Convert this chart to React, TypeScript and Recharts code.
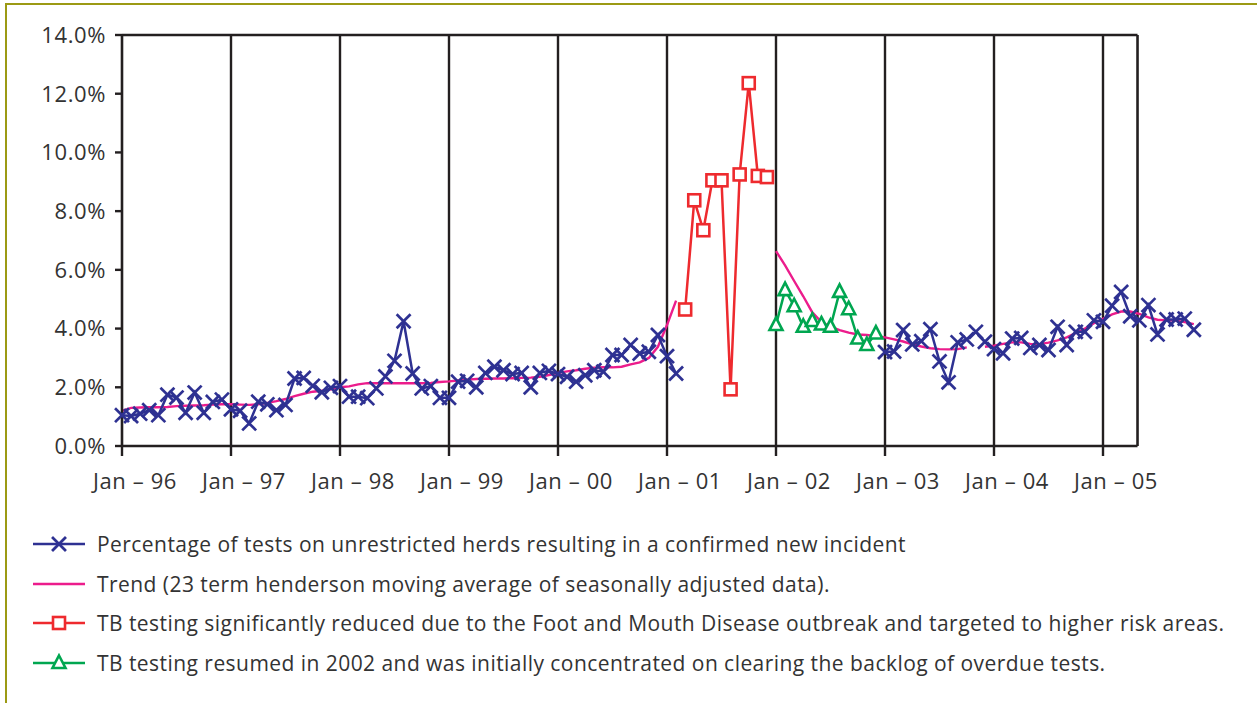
import React from 'react';
import { LineChart, Line, XAxis, YAxis, ReferenceLine } from 'recharts';

// Monthly values from Jan 1996 (month 0) to Nov 2005 (month 118)
const yearLabels = ['Jan – 96', 'Jan – 97', 'Jan – 98', 'Jan – 99', 'Jan – 00', 'Jan – 01', 'Jan – 02', 'Jan – 03', 'Jan – 04', 'Jan – 05'];
const yearTicks = [0, 12, 24, 36, 48, 60, 72, 84, 96, 108];
const pctTicks = [0, 2, 4, 6, 8, 10, 12, 14];

// Jan 96 - Feb 01
const blueEarly = [
  1.05, 1.02, 1.1, 1.22, 1.05, 1.75, 1.65, 1.13, 1.82, 1.13, 1.5, 1.58,
  1.25, 1.2, 0.77, 1.51, 1.42, 1.22, 1.4, 2.3, 2.32, 2.05, 1.83, 1.98,
  2.04, 1.68, 1.68, 1.63, 1.96, 2.37, 2.9, 4.25, 2.47, 1.96, 2.04, 1.64,
  1.64, 2.19, 2.22, 2.0, 2.49, 2.7, 2.58, 2.45, 2.49, 2.0, 2.49, 2.56,
  2.45, 2.36, 2.19, 2.41, 2.58, 2.53, 3.1, 3.1, 3.44, 3.15, 3.21, 3.78,
  3.06, 2.47,
];
// Jan 03 - Nov 05
const blueLate = [
  3.2, 3.22, 3.95, 3.46, 3.57, 3.98, 2.88, 2.17, 3.53, 3.63, 3.89, 3.55,
  3.3, 3.16, 3.66, 3.68, 3.34, 3.44, 3.27, 4.06, 3.44, 3.89, 3.89, 4.28,
  4.23, 4.78, 5.25, 4.42, 4.28, 4.8, 3.8, 4.31, 4.31, 4.34, 3.96,
];
// Mar 01 - Dec 01
const redFmd = [4.65, 8.37, 7.35, 9.05, 9.05, 1.93, 9.25, 12.36, 9.2, 9.16];
// Jan 02 - Dec 02
const greenResumed = [4.12, 5.31, 4.76, 4.06, 4.26, 4.14, 4.06, 5.25, 4.66, 3.66, 3.44, 3.83];

// trend: Jan 96 - Feb 01
const trendEarly = [
  1.2, 1.3, 1.31, 1.32, 1.32, 1.33, 1.36, 1.37, 1.38, 1.39, 1.41, 1.42,
  1.42, 1.41, 1.4, 1.42, 1.47, 1.53, 1.6, 1.7, 1.78, 1.85, 1.88, 1.93,
  2.0, 2.03, 2.1, 2.14, 2.14, 2.14, 2.14, 2.14, 2.14, 2.14, 2.15, 2.18,
  2.2, 2.23, 2.26, 2.28, 2.29, 2.3, 2.3, 2.31, 2.32, 2.33, 2.36, 2.42,
  2.49, 2.54, 2.58, 2.63, 2.67, 2.68, 2.68, 2.7, 2.78, 2.85, 3.0, 3.38,
  4.12, 4.95,
];
// trend: Jan 02 - Oct 03
const trendMid = [
  6.64, 6.15, 5.62, 5.1, 4.55, 4.22, 4.07, 3.95, 3.86, 3.8, 3.78, 3.74,
  3.7, 3.63, 3.56, 3.46, 3.39, 3.33, 3.3, 3.29, 3.3, 3.36,
];
// trend: Dec 03 - Nov 05
const trendLate = [
  3.38, 3.42, 3.48, 3.53, 3.53, 3.48, 3.47, 3.52, 3.6, 3.7, 3.85, 4.0,
  4.18, 4.33, 4.48, 4.58, 4.58, 4.5, 4.38, 4.3, 4.28, 4.27, 4.22, 4.15,
];

const data = Array.from({ length: 119 }, (_, m) => {
  const pick = (arr: number[], start: number) => (m >= start && m < start + arr.length ? arr[m - start] : null);
  return {
    m,
    blue: pick(blueEarly, 0) ?? pick(blueLate, 84),
    red: pick(redFmd, 62),
    green: pick(greenResumed, 72),
    trend: pick(trendEarly, 0) ?? pick(trendMid, 72) ?? pick(trendLate, 95),
  };
});

const BLUE = '#2e3192';
const PINK = '#ec1c8c';
const RED = '#ee2a2e';
const GREEN = '#00a650';
const AXIS = '#231f20';
const TEXT = '#333333';
const FONT = '"Open Sans", "Noto Sans", sans-serif';
const FRAME_END = 111.8;

const Cross = ({ cx, cy, color, size = 6 }: any) => (
  <g stroke={color} strokeWidth={2.7} strokeLinecap="square">
    <line x1={cx - size} y1={cy - size} x2={cx + size} y2={cy + size} />
    <line x1={cx - size} y1={cy + size} x2={cx + size} y2={cy - size} />
  </g>
);
const Square = ({ cx, cy, color }: any) => (
  <rect x={cx - 6} y={cy - 6} width={12} height={12} fill="#fff" stroke={color} strokeWidth={2.6} />
);
const Triangle = ({ cx, cy, color }: any) => (
  <polygon points={`${cx},${cy - 7.5} ${cx + 6.5},${cy + 5} ${cx - 6.5},${cy + 5}`} fill="#fff" stroke={color} strokeWidth={2.6} />
);

const makeDot = (Shape: any, color: string) => (props: any) => {
  const { cx, cy, key, value } = props;
  if (cx == null || cy == null || value == null) return <g key={key} />;
  return <g key={key}><Shape cx={cx} cy={cy} color={color} /></g>;
};

const XTick = ({ x, y, payload }: any) => {
  const i = yearTicks.indexOf(payload.value);
  return (
    <text x={x + 13} y={y + 31} textAnchor="middle" fontSize={22} letterSpacing={0.6} fill={TEXT} fontFamily={FONT}>
      {yearLabels[i]}
    </text>
  );
};

const legendItems = [
  { label: 'Percentage of tests on unrestricted herds resulting in a confirmed new incident', color: BLUE, Shape: Cross },
  { label: 'Trend (23 term henderson moving average of seasonally adjusted data).', color: PINK, Shape: null },
  { label: 'TB testing significantly reduced due to the Foot and Mouth Disease outbreak and targeted to higher risk areas.', color: RED, Shape: Square },
  { label: 'TB testing resumed in 2002 and was initially concentrated on clearing the backlog of overdue tests.', color: GREEN, Shape: Triangle },
];

export default function App() {
  return (
    <div style={{ position: 'absolute', left: 0, top: 0, width: 1257, height: 703, background: '#fff', fontFamily: FONT }}>
      <div style={{ position: 'absolute', left: 5, top: 3, width: 1252, height: 700, borderTop: '2px solid #9c9a14', borderLeft: '2.5px solid #9c9a14' }} />
      <div style={{ position: 'absolute', left: 0, top: 0 }}>
        <LineChart width={1257} height={500} data={data} margin={{ top: 35, right: 45, left: 0, bottom: 14 }}>
          <XAxis
            dataKey="m"
            type="number"
            domain={[0, 120]}
            ticks={yearTicks}
            axisLine={false}
            tickLine={{ stroke: AXIS, strokeWidth: 2.4 }}
            tickSize={10}
            height={40}
            tick={<XTick />}
            interval={0}
          />
          <YAxis
            domain={[0, 14]}
            ticks={pctTicks}
            width={122}
            axisLine={{ stroke: AXIS, strokeWidth: 2.6 }}
            tickLine={{ stroke: AXIS, strokeWidth: 2.4 }}
            tickSize={7}
            tickMargin={9}
            tickFormatter={(v: number) => `${v.toFixed(1)}%`}
            tick={{ fontSize: 22, fill: TEXT, fontFamily: FONT, letterSpacing: 0.6 }}
          />
          {yearTicks.slice(1).map((t) => (
            <ReferenceLine key={t} segment={[{ x: t, y: 0 }, { x: t, y: 14 }]} stroke={AXIS} strokeWidth={2.4} />
          ))}
          <ReferenceLine segment={[{ x: 0, y: 0 }, { x: FRAME_END, y: 0 }]} stroke={AXIS} strokeWidth={2.6} />
          <ReferenceLine segment={[{ x: 0, y: 14 }, { x: FRAME_END, y: 14 }]} stroke={AXIS} strokeWidth={2.6} />
          <ReferenceLine segment={[{ x: FRAME_END, y: 0 }, { x: FRAME_END, y: 14 }]} stroke={AXIS} strokeWidth={2.6} />
          <Line dataKey="trend" stroke={PINK} strokeWidth={2.4} dot={false} isAnimationActive={false} connectNulls={false} />
          <Line dataKey="blue" stroke={BLUE} strokeWidth={2.5} dot={makeDot(Cross, BLUE)} isAnimationActive={false} connectNulls={false} />
          <Line dataKey="red" stroke={RED} strokeWidth={2.5} dot={makeDot(Square, RED)} isAnimationActive={false} connectNulls={false} />
          <Line dataKey="green" stroke={GREEN} strokeWidth={2.5} dot={makeDot(Triangle, GREEN)} isAnimationActive={false} connectNulls={false} />
        </LineChart>
      </div>
      {legendItems.map((it, i) => (
        <div key={it.label} style={{ position: 'absolute', left: 33, top: 544 + i * 39.5 - 14, height: 28, display: 'flex', alignItems: 'center' }}>
          <svg width={54} height={20} style={{ display: 'block' }}>
            <line x1={0} y1={10} x2={52} y2={10} stroke={it.color} strokeWidth={2.5} />
            {it.Shape && <it.Shape cx={26} cy={10} color={it.color} />}
          </svg>
          <span style={{ marginLeft: 10, fontSize: 21, letterSpacing: 0.45, color: TEXT, whiteSpace: 'nowrap', lineHeight: '28px' }}>{it.label}</span>
        </div>
      ))}
    </div>
  );
}
